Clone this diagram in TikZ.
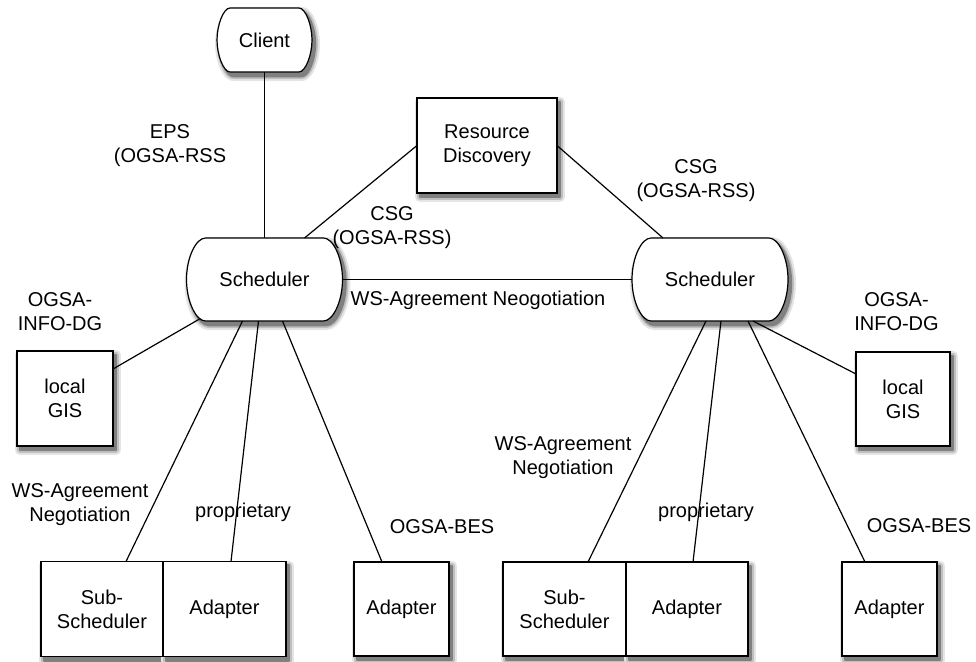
\documentclass[tikz,border=0pt]{standalone}
\usepackage{fontspec}
\setmainfont{Liberation Sans}
\usetikzlibrary{calc}
% #1 style, #2 node, #3 corner inset, #4 vertical control, #5 dx, #6 dy
\newcommand{\mytermdraw}[6]{%
  \path[#1] ($(#2.north west)+(#3+#5,#6)$) -- ($(#2.north east)+(-#3+#5,#6)$)
   .. controls ($(#2.north east)+(-#3*0.5+#5,#6)$) and ($(#2.east)+(#5,-#4+#6)$) .. ($(#2.east)+(#5,#6)$)
   .. controls ($(#2.east)+(#5,#4+#6)$) and ($(#2.south east)+(-#3*0.5+#5,#6)$) .. ($(#2.south east)+(-#3+#5,#6)$)
   -- ($(#2.south west)+(#3+#5,#6)$)
   .. controls ($(#2.south west)+(#3*0.5+#5,#6)$) and ($(#2.west)+(#5,#4+#6)$) .. ($(#2.west)+(#5,#6)$)
   .. controls ($(#2.west)+(#5,-#4+#6)$) and ($(#2.north west)+(#3*0.5+#5,#6)$) .. cycle;}
\newcommand{\mytermshadow}[3]{%
  \mytermdraw{shA}{#1}{#2}{#3}{3}{4}%
  \mytermdraw{shB}{#1}{#2}{#3}{3}{4}%
  \mytermdraw{shC}{#1}{#2}{#3}{3}{4}}
\newcommand{\myrectdraw}[2]{%
  \path[#1] ($(#2.north west)+(3,4)$) rectangle ($(#2.south east)+(3,4)$);}
\newcommand{\myrectshadow}[1]{%
  \myrectdraw{shA}{#1}\myrectdraw{shB}{#1}\myrectdraw{shC}{#1}}
\newcommand{\myrectbox}[1]{%
  \draw[boxline] (#1.north west) rectangle (#1.south east);}
\definecolor{shadeA}{gray}{0.90}
\definecolor{shadeB}{gray}{0.75}
\definecolor{shadeC}{gray}{0.50}
\begin{document}
\begin{tikzpicture}[x=1pt,y=-1pt,
  every node/.style={font=\fontsize{20}{24}\selectfont},
  shA/.style={draw=shadeA,fill=shadeA,line width=10pt,line join=round},
  shB/.style={draw=shadeB,fill=shadeB,line width=6pt,line join=round},
  shC/.style={draw=shadeC,fill=shadeC,line width=2.5pt,line join=round},
  frame/.style={inner sep=0pt,outer sep=0pt},
  boxline/.style={draw=black,line width=1.2pt,fill=white},
  lbl/.style={align=center,inner sep=0pt},
  conn/.style={line width=1.2pt}]
\useasboundingbox (0,0) rectangle (976,661);

% node frames
\node[frame,minimum width=95pt,minimum height=64pt] (client) at (264.5,40) {};
\node[frame,minimum width=156pt,minimum height=83pt] (s1) at (264.5,279.5) {};
\node[frame,minimum width=156pt,minimum height=83pt] (s2) at (710,279.5) {};
\node[frame,minimum width=140pt,minimum height=95pt] (rd) at (487,145.5) {};
\node[frame,minimum width=96pt,minimum height=95pt] (gis1) at (65,398.5) {};
\node[frame,minimum width=94pt,minimum height=94pt] (gis2) at (903,399) {};
\node[frame,minimum width=122pt,minimum height=95pt] (sub1) at (102,609) {};
\node[frame,minimum width=123pt,minimum height=95pt] (ad1) at (224.5,609) {};
\node[frame,minimum width=95pt,minimum height=94pt] (ad1b) at (401.5,609) {};
\node[frame,minimum width=123pt,minimum height=94pt] (sub2) at (564.5,609) {};
\node[frame,minimum width=122pt,minimum height=94pt] (ad2) at (687,609) {};
\node[frame,minimum width=95pt,minimum height=94pt] (ad2b) at (889.5,609) {};

% shadows
\mytermshadow{client}{13}{15}
\mytermshadow{s1}{19}{22}
\mytermshadow{s2}{19}{22}
\myrectshadow{rd}
\myrectshadow{gis1}
\myrectshadow{gis2}
\myrectshadow{sub1}
\myrectshadow{ad1}
\myrectshadow{ad1b}
\myrectshadow{sub2}
\myrectshadow{ad2}
\myrectshadow{ad2b}

% outlines
\mytermdraw{boxline}{client}{13}{15}{0}{0}
\mytermdraw{boxline}{s1}{19}{22}{0}{0}
\mytermdraw{boxline}{s2}{19}{22}{0}{0}
\myrectbox{rd}
\myrectbox{gis1}
\myrectbox{gis2}
\myrectbox{sub1}
\myrectbox{ad1}
\myrectbox{ad1b}
\myrectbox{sub2}
\myrectbox{ad2}
\myrectbox{ad2b}

% texts in nodes
\node[lbl] (clienttxt) at (client) {Client};
\node[lbl] (s1txt) at (s1) {Scheduler};
\node[lbl] (s2txt) at (s2) {Scheduler};
\node[lbl] (rdtxt) at (rd) {Resource\\Discovery};
\node[lbl] (gis1txt) at (gis1) {local\\GIS};
\node[lbl] (gis2txt) at (gis2) {local\\GIS};
\node[lbl] (sub1txt) at (sub1) {Sub-\\Scheduler};
\node[lbl] (ad1txt) at (ad1) {Adapter};
\node[lbl] (ad1btxt) at (ad1b) {Adapter};
\node[lbl] (sub2txt) at (sub2) {Sub-\\Scheduler};
\node[lbl] (ad2txt) at (ad2) {Adapter};
\node[lbl] (ad2btxt) at (ad2b) {Adapter};

% connectors
\draw[conn] (client.south) -- (s1.north);
\draw[conn] ($(s1.north)+(40,0)$) -- (rd.west);
\draw[conn] (rd.east) -- ($(s2.north)+(-47,0)$);
\draw[conn] (s1.east) -- (s2.west);
\draw[conn] ($(s1.south west)+(13,-2)$) -- ($(gis1.north east)+(0,18)$);
\draw[conn] ($(s1.south)+(-22,0)$) -- ($(sub1.north)+(24,0)$);
\draw[conn] ($(s1.south)+(-6,0)$) -- ($(ad1.north)+(6.5,0)$);
\draw[conn] ($(s1.south)+(18,0)$) -- ($(ad1b.north)+(-19.5,0)$);
\draw[conn] ($(s2.south)+(-4,0)$) -- ($(sub2.north)+(23.5,0)$);
\draw[conn] ($(s2.south)+(11,0)$) -- ($(ad2.north)+(6,0)$);
\draw[conn] ($(s2.south)+(38,0)$) -- ($(ad2b.north)+(-24.5,0)$);
\draw[conn] ($(s2.south east)+(-35,0)$) -- ($(gis2.north west)+(0,22)$);

% labels
\node[lbl] (leps) at (170,146) {EPS\\(OGSA-RSS};
\node[lbl] (lcsga) at (392,228) {CSG\\(OGSA-RSS)};
\node[lbl] (lcsgb) at (696,181) {CSG\\(OGSA-RSS)};
\node[lbl] (lws) at (478,300) {WS-Agreement Neogotiation};
\node[lbl] (linfoa) at (60,312) {OGSA-\\INFO-DG};
\node[lbl] (linfob) at (896.5,312) {OGSA-\\INFO-DG};
\node[lbl] (lwsaa) at (80,505) {WS-Agreement\\Negotiation};
\node[lbl] (lwsab) at (563,458) {WS-Agreement\\Negotiation};
\node[lbl,anchor=base] (lpropa) at (243,517) {proprietary};
\node[lbl,anchor=base] (lpropb) at (706,517) {proprietary};
\node[lbl] (lbesa) at (442,527) {OGSA-BES};
\node[lbl] (lbesb) at (919,526) {OGSA-BES};
\end{tikzpicture}
\end{document}
